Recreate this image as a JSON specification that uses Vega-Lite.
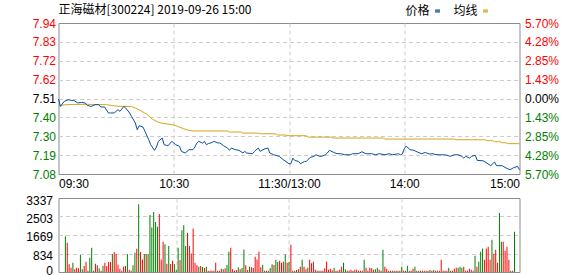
{
"$schema": "https://vega.github.io/schema/vega-lite/v6.json",
"background": "white",
"padding": {"left": 24.5, "top": 3, "right": 5, "bottom": 0},
"spacing": 24,
"bounds": "flush",
"resolve": {"scale": {"color": "independent"}},
"datasets": {
"lines": [
{"t":0,"v":7.507,"s":"价格"},{"t":1,"v":7.465,"s":"价格"},{"t":3,"v":7.494,"s":"价格"},{"t":5,"v":7.503,"s":"价格"},{"t":7,"v":7.499,"s":"价格"},{"t":8,"v":7.499,"s":"价格"},{"t":10,"v":7.485,"s":"价格"},{"t":12,"v":7.488,"s":"价格"},{"t":14,"v":7.484,"s":"价格"},{"t":15,"v":7.471,"s":"价格"},{"t":17,"v":7.465,"s":"价格"},{"t":19,"v":7.475,"s":"价格"},{"t":21,"v":7.475,"s":"价格"},{"t":22,"v":7.462,"s":"价格"},{"t":24,"v":7.462,"s":"价格"},{"t":26,"v":7.428,"s":"价格"},{"t":27,"v":7.428,"s":"价格"},{"t":29,"v":7.428,"s":"价格"},{"t":31,"v":7.447,"s":"价格"},{"t":32,"v":7.437,"s":"价格"},{"t":34,"v":7.465,"s":"价格"},{"t":35,"v":7.456,"s":"价格"},{"t":37,"v":7.428,"s":"价格"},{"t":38,"v":7.409,"s":"价格"},{"t":40,"v":7.371,"s":"价格"},{"t":41,"v":7.333,"s":"价格"},{"t":42,"v":7.356,"s":"价格"},{"t":44,"v":7.348,"s":"价格"},{"t":45,"v":7.324,"s":"价格"},{"t":47,"v":7.276,"s":"价格"},{"t":48,"v":7.248,"s":"价格"},{"t":50,"v":7.216,"s":"价格"},{"t":51,"v":7.235,"s":"价格"},{"t":52,"v":7.267,"s":"价格"},{"t":54,"v":7.286,"s":"价格"},{"t":55,"v":7.248,"s":"价格"},{"t":57,"v":7.242,"s":"价格"},{"t":59,"v":7.267,"s":"价格"},{"t":60,"v":7.258,"s":"价格"},{"t":61,"v":7.248,"s":"价格"},{"t":63,"v":7.239,"s":"价格"},{"t":64,"v":7.21,"s":"价格"},{"t":66,"v":7.201,"s":"价格"},{"t":68,"v":7.22,"s":"价格"},{"t":70,"v":7.22,"s":"价格"},{"t":71,"v":7.235,"s":"价格"},{"t":72,"v":7.257,"s":"价格"},{"t":73,"v":7.267,"s":"价格"},{"t":75,"v":7.257,"s":"价格"},{"t":76,"v":7.267,"s":"价格"},{"t":77,"v":7.248,"s":"价格"},{"t":78,"v":7.254,"s":"价格"},{"t":80,"v":7.261,"s":"价格"},{"t":81,"v":7.267,"s":"价格"},{"t":83,"v":7.258,"s":"价格"},{"t":84,"v":7.258,"s":"价格"},{"t":86,"v":7.242,"s":"价格"},{"t":88,"v":7.229,"s":"价格"},{"t":89,"v":7.216,"s":"价格"},{"t":90,"v":7.229,"s":"价格"},{"t":92,"v":7.22,"s":"价格"},{"t":94,"v":7.216,"s":"价格"},{"t":96,"v":7.201,"s":"价格"},{"t":97,"v":7.21,"s":"价格"},{"t":98,"v":7.201,"s":"价格"},{"t":101,"v":7.197,"s":"价格"},{"t":102,"v":7.21,"s":"价格"},{"t":104,"v":7.229,"s":"价格"},{"t":105,"v":7.21,"s":"价格"},{"t":107,"v":7.223,"s":"价格"},{"t":109,"v":7.229,"s":"价格"},{"t":110,"v":7.201,"s":"价格"},{"t":112,"v":7.191,"s":"价格"},{"t":115,"v":7.182,"s":"价格"},{"t":117,"v":7.163,"s":"价格"},{"t":120,"v":7.14,"s":"价格"},{"t":121,"v":7.14,"s":"价格"},{"t":122,"v":7.172,"s":"价格"},{"t":123,"v":7.159,"s":"价格"},{"t":125,"v":7.153,"s":"价格"},{"t":126,"v":7.14,"s":"价格"},{"t":128,"v":7.153,"s":"价格"},{"t":129,"v":7.153,"s":"价格"},{"t":131,"v":7.176,"s":"价格"},{"t":133,"v":7.182,"s":"价格"},{"t":134,"v":7.191,"s":"价格"},{"t":136,"v":7.182,"s":"价格"},{"t":137,"v":7.182,"s":"价格"},{"t":139,"v":7.191,"s":"价格"},{"t":140,"v":7.201,"s":"价格"},{"t":141,"v":7.216,"s":"价格"},{"t":143,"v":7.206,"s":"价格"},{"t":145,"v":7.197,"s":"价格"},{"t":147,"v":7.197,"s":"价格"},{"t":149,"v":7.191,"s":"价格"},{"t":152,"v":7.191,"s":"价格"},{"t":153,"v":7.197,"s":"价格"},{"t":156,"v":7.197,"s":"价格"},{"t":158,"v":7.208,"s":"价格"},{"t":160,"v":7.197,"s":"价格"},{"t":163,"v":7.197,"s":"价格"},{"t":165,"v":7.191,"s":"价格"},{"t":167,"v":7.197,"s":"价格"},{"t":170,"v":7.191,"s":"价格"},{"t":172,"v":7.197,"s":"价格"},{"t":174,"v":7.191,"s":"价格"},{"t":177,"v":7.197,"s":"价格"},{"t":178,"v":7.191,"s":"价格"},{"t":179,"v":7.195,"s":"价格"},{"t":180,"v":7.225,"s":"价格"},{"t":181,"v":7.24,"s":"价格"},{"t":183,"v":7.22,"s":"价格"},{"t":185,"v":7.216,"s":"价格"},{"t":187,"v":7.206,"s":"价格"},{"t":189,"v":7.197,"s":"价格"},{"t":191,"v":7.204,"s":"价格"},{"t":193,"v":7.195,"s":"价格"},{"t":195,"v":7.197,"s":"价格"},{"t":196,"v":7.193,"s":"价格"},{"t":198,"v":7.191,"s":"价格"},{"t":200,"v":7.191,"s":"价格"},{"t":202,"v":7.189,"s":"价格"},{"t":204,"v":7.182,"s":"价格"},{"t":206,"v":7.191,"s":"价格"},{"t":208,"v":7.191,"s":"价格"},{"t":210,"v":7.182,"s":"价格"},{"t":211,"v":7.172,"s":"价格"},{"t":212,"v":7.182,"s":"价格"},{"t":214,"v":7.172,"s":"价格"},{"t":215,"v":7.182,"s":"价格"},{"t":217,"v":7.188,"s":"价格"},{"t":218,"v":7.159,"s":"价格"},{"t":221,"v":7.157,"s":"价格"},{"t":223,"v":7.144,"s":"价格"},{"t":225,"v":7.129,"s":"价格"},{"t":227,"v":7.15,"s":"价格"},{"t":228,"v":7.129,"s":"价格"},{"t":231,"v":7.129,"s":"价格"},{"t":233,"v":7.116,"s":"价格"},{"t":235,"v":7.106,"s":"价格"},{"t":237,"v":7.118,"s":"价格"},{"t":239,"v":7.125,"s":"价格"},{"t":240,"v":7.106,"s":"价格"},
{"t":0,"v":7.47,"s":"均线"},{"t":5,"v":7.476,"s":"均线"},{"t":15,"v":7.477,"s":"均线"},{"t":25,"v":7.475,"s":"均线"},{"t":28,"v":7.47,"s":"均线"},{"t":31,"v":7.466,"s":"均线"},{"t":38,"v":7.464,"s":"均线"},{"t":40,"v":7.456,"s":"均线"},{"t":43,"v":7.44,"s":"均线"},{"t":46,"v":7.42,"s":"均线"},{"t":49,"v":7.392,"s":"均线"},{"t":52,"v":7.375,"s":"均线"},{"t":54,"v":7.37,"s":"均线"},{"t":57,"v":7.365,"s":"均线"},{"t":60,"v":7.36,"s":"均线"},{"t":62,"v":7.352,"s":"均线"},{"t":65,"v":7.339,"s":"均线"},{"t":68,"v":7.329,"s":"均线"},{"t":70,"v":7.326,"s":"均线"},{"t":88,"v":7.326,"s":"均线"},{"t":89,"v":7.32,"s":"均线"},{"t":95,"v":7.32,"s":"均线"},{"t":96,"v":7.314,"s":"均线"},{"t":104,"v":7.314,"s":"均线"},{"t":105,"v":7.31,"s":"均线"},{"t":113,"v":7.31,"s":"均线"},{"t":114,"v":7.303,"s":"均线"},{"t":118,"v":7.303,"s":"均线"},{"t":120,"v":7.299,"s":"均线"},{"t":129,"v":7.299,"s":"均线"},{"t":130,"v":7.291,"s":"均线"},{"t":142,"v":7.291,"s":"均线"},{"t":143,"v":7.286,"s":"均线"},{"t":169,"v":7.286,"s":"均线"},{"t":170,"v":7.28,"s":"均线"},{"t":206,"v":7.28,"s":"均线"},{"t":207,"v":7.276,"s":"均线"},{"t":222,"v":7.276,"s":"均线"},{"t":223,"v":7.271,"s":"均线"},{"t":226,"v":7.271,"s":"均线"},{"t":227,"v":7.265,"s":"均线"},{"t":230,"v":7.265,"s":"均线"},{"t":231,"v":7.259,"s":"均线"},{"t":233,"v":7.259,"s":"均线"},{"t":234,"v":7.254,"s":"均线"},{"t":240,"v":7.254,"s":"均线"}
],
"bars": [
{"t":1,"vol":1617,"d":"d"},{"t":2,"vol":1317,"d":"u"},{"t":3,"vol":344,"d":"u"},{"t":4,"vol":195,"d":"u"},{"t":5,"vol":419,"d":"d"},{"t":6,"vol":120,"d":"u"},{"t":7,"vol":195,"d":"u"},{"t":8,"vol":165,"d":"u"},{"t":9,"vol":763,"d":"d"},{"t":10,"vol":120,"d":"d"},
{"t":11,"vol":270,"d":"u"},{"t":12,"vol":464,"d":"u"},{"t":13,"vol":60,"d":"d"},{"t":14,"vol":644,"d":"d"},{"t":15,"vol":1093,"d":"d"},{"t":16,"vol":60,"d":"u"},{"t":17,"vol":374,"d":"u"},{"t":18,"vol":300,"d":"u"},{"t":19,"vol":165,"d":"d"},{"t":20,"vol":60,"d":"u"},
{"t":21,"vol":285,"d":"d"},{"t":22,"vol":419,"d":"u"},{"t":23,"vol":270,"d":"u"},{"t":24,"vol":449,"d":"u"},{"t":25,"vol":449,"d":"u"},{"t":26,"vol":808,"d":"d"},{"t":27,"vol":898,"d":"u"},{"t":28,"vol":808,"d":"u"},{"t":29,"vol":330,"d":"u"},{"t":30,"vol":150,"d":"u"},
{"t":31,"vol":60,"d":"u"},{"t":32,"vol":240,"d":"u"},{"t":33,"vol":270,"d":"u"},{"t":34,"vol":808,"d":"d"},{"t":35,"vol":90,"d":"u"},{"t":36,"vol":60,"d":"u"},{"t":37,"vol":300,"d":"d"},{"t":38,"vol":868,"d":"d"},{"t":39,"vol":1048,"d":"u"},{"t":40,"vol":3054,"d":"d"},
{"t":41,"vol":898,"d":"u"},{"t":42,"vol":569,"d":"u"},{"t":43,"vol":808,"d":"d"},{"t":44,"vol":808,"d":"u"},{"t":45,"vol":808,"d":"d"},{"t":46,"vol":2575,"d":"d"},{"t":47,"vol":2006,"d":"d"},{"t":48,"vol":2710,"d":"d"},{"t":49,"vol":2260,"d":"d"},{"t":50,"vol":2036,"d":"d"},
{"t":51,"vol":2620,"d":"u"},{"t":52,"vol":569,"d":"u"},{"t":53,"vol":1362,"d":"u"},{"t":54,"vol":1257,"d":"d"},{"t":55,"vol":374,"d":"u"},{"t":56,"vol":1168,"d":"d"},{"t":57,"vol":359,"d":"u"},{"t":58,"vol":509,"d":"u"},{"t":59,"vol":359,"d":"d"},{"t":60,"vol":90,"d":"d"},
{"t":61,"vol":1093,"d":"d"},{"t":62,"vol":539,"d":"u"},{"t":63,"vol":1886,"d":"d"},{"t":64,"vol":2111,"d":"d"},{"t":65,"vol":1168,"d":"d"},{"t":66,"vol":1766,"d":"u"},{"t":67,"vol":1168,"d":"u"},{"t":68,"vol":838,"d":"u"},{"t":69,"vol":1961,"d":"u"},{"t":70,"vol":419,"d":"u"},
{"t":71,"vol":300,"d":"u"},{"t":72,"vol":240,"d":"d"},{"t":73,"vol":270,"d":"u"},{"t":74,"vol":225,"d":"d"},{"t":75,"vol":180,"d":"u"},{"t":76,"vol":240,"d":"d"},{"t":77,"vol":60,"d":"u"},{"t":78,"vol":60,"d":"u"},{"t":79,"vol":60,"d":"u"},{"t":80,"vol":60,"d":"u"},
{"t":81,"vol":419,"d":"u"},{"t":82,"vol":60,"d":"d"},{"t":83,"vol":60,"d":"u"},{"t":84,"vol":150,"d":"u"},{"t":85,"vol":120,"d":"d"},{"t":86,"vol":165,"d":"u"},{"t":87,"vol":314,"d":"d"},{"t":88,"vol":913,"d":"d"},{"t":89,"vol":1093,"d":"u"},{"t":90,"vol":120,"d":"u"},
{"t":91,"vol":60,"d":"u"},{"t":92,"vol":90,"d":"u"},{"t":93,"vol":210,"d":"d"},{"t":94,"vol":120,"d":"u"},{"t":95,"vol":180,"d":"d"},{"t":96,"vol":1018,"d":"d"},{"t":97,"vol":300,"d":"u"},{"t":98,"vol":90,"d":"u"},{"t":99,"vol":240,"d":"d"},{"t":100,"vol":210,"d":"u"},
{"t":101,"vol":180,"d":"u"},{"t":102,"vol":689,"d":"u"},{"t":103,"vol":569,"d":"u"},{"t":104,"vol":913,"d":"u"},{"t":105,"vol":210,"d":"u"},{"t":106,"vol":330,"d":"d"},{"t":107,"vol":60,"d":"u"},{"t":108,"vol":60,"d":"u"},{"t":109,"vol":60,"d":"u"},{"t":110,"vol":180,"d":"d"},
{"t":111,"vol":344,"d":"d"},{"t":112,"vol":314,"d":"u"},{"t":113,"vol":554,"d":"d"},{"t":114,"vol":449,"d":"d"},{"t":115,"vol":509,"d":"u"},{"t":116,"vol":419,"d":"u"},{"t":117,"vol":464,"d":"u"},{"t":118,"vol":793,"d":"d"},{"t":119,"vol":419,"d":"u"},{"t":120,"vol":449,"d":"d"},
{"t":121,"vol":1227,"d":"u"},{"t":122,"vol":60,"d":"u"},{"t":123,"vol":60,"d":"u"},{"t":124,"vol":90,"d":"d"},{"t":125,"vol":120,"d":"u"},{"t":126,"vol":240,"d":"u"},{"t":127,"vol":554,"d":"d"},{"t":128,"vol":240,"d":"u"},{"t":129,"vol":120,"d":"u"},{"t":130,"vol":195,"d":"d"},
{"t":131,"vol":554,"d":"u"},{"t":132,"vol":389,"d":"u"},{"t":133,"vol":464,"d":"u"},{"t":134,"vol":100,"d":"u"},{"t":135,"vol":60,"d":"u"},{"t":136,"vol":60,"d":"d"},{"t":137,"vol":60,"d":"u"},{"t":138,"vol":60,"d":"u"},{"t":139,"vol":165,"d":"u"},{"t":140,"vol":464,"d":"u"},
{"t":141,"vol":100,"d":"u"},{"t":142,"vol":150,"d":"u"},{"t":143,"vol":75,"d":"u"},{"t":144,"vol":195,"d":"d"},{"t":145,"vol":60,"d":"u"},{"t":146,"vol":60,"d":"u"},{"t":147,"vol":100,"d":"u"},{"t":148,"vol":240,"d":"u"},{"t":149,"vol":419,"d":"d"},{"t":150,"vol":120,"d":"d"},
{"t":151,"vol":60,"d":"u"},{"t":152,"vol":60,"d":"u"},{"t":153,"vol":100,"d":"u"},{"t":154,"vol":60,"d":"d"},{"t":155,"vol":100,"d":"u"},{"t":156,"vol":100,"d":"u"},{"t":157,"vol":60,"d":"u"},{"t":158,"vol":60,"d":"u"},{"t":159,"vol":60,"d":"u"},{"t":160,"vol":554,"d":"d"},
{"t":161,"vol":195,"d":"u"},{"t":162,"vol":60,"d":"u"},{"t":163,"vol":195,"d":"u"},{"t":164,"vol":165,"d":"u"},{"t":165,"vol":100,"d":"u"},{"t":166,"vol":120,"d":"d"},{"t":167,"vol":195,"d":"d"},{"t":168,"vol":100,"d":"u"},{"t":169,"vol":60,"d":"u"},{"t":170,"vol":1003,"d":"d"},
{"t":171,"vol":240,"d":"u"},{"t":172,"vol":150,"d":"u"},{"t":173,"vol":60,"d":"u"},{"t":174,"vol":60,"d":"d"},{"t":175,"vol":60,"d":"u"},{"t":176,"vol":60,"d":"u"},{"t":177,"vol":60,"d":"u"},{"t":178,"vol":60,"d":"d"},{"t":179,"vol":60,"d":"u"},{"t":180,"vol":240,"d":"d"},
{"t":181,"vol":60,"d":"u"},{"t":182,"vol":60,"d":"u"},{"t":183,"vol":285,"d":"d"},{"t":184,"vol":60,"d":"d"},{"t":185,"vol":60,"d":"u"},{"t":186,"vol":150,"d":"u"},{"t":187,"vol":240,"d":"d"},{"t":188,"vol":60,"d":"d"},{"t":189,"vol":60,"d":"u"},{"t":190,"vol":60,"d":"u"},
{"t":191,"vol":60,"d":"u"},{"t":192,"vol":60,"d":"d"},{"t":193,"vol":60,"d":"u"},{"t":194,"vol":60,"d":"u"},{"t":195,"vol":90,"d":"d"},{"t":196,"vol":60,"d":"u"},{"t":197,"vol":90,"d":"d"},{"t":198,"vol":60,"d":"u"},{"t":199,"vol":60,"d":"u"},{"t":200,"vol":60,"d":"u"},
{"t":201,"vol":554,"d":"u"},{"t":202,"vol":60,"d":"u"},{"t":203,"vol":60,"d":"u"},{"t":204,"vol":60,"d":"u"},{"t":205,"vol":195,"d":"d"},{"t":206,"vol":60,"d":"u"},{"t":207,"vol":60,"d":"u"},{"t":208,"vol":150,"d":"u"},{"t":209,"vol":195,"d":"u"},{"t":210,"vol":195,"d":"d"},
{"t":211,"vol":240,"d":"d"},{"t":212,"vol":195,"d":"d"},{"t":213,"vol":240,"d":"u"},{"t":214,"vol":60,"d":"u"},{"t":215,"vol":60,"d":"u"},{"t":216,"vol":150,"d":"u"},{"t":217,"vol":100,"d":"u"},{"t":218,"vol":60,"d":"u"},{"t":219,"vol":734,"d":"d"},{"t":220,"vol":240,"d":"u"},
{"t":221,"vol":464,"d":"d"},{"t":222,"vol":913,"d":"d"},{"t":223,"vol":1063,"d":"d"},{"t":224,"vol":554,"d":"u"},{"t":225,"vol":1063,"d":"u"},{"t":226,"vol":1138,"d":"u"},{"t":227,"vol":554,"d":"u"},{"t":228,"vol":1452,"d":"d"},{"t":229,"vol":823,"d":"u"},{"t":230,"vol":1003,"d":"u"},
{"t":231,"vol":419,"d":"u"},{"t":232,"vol":2665,"d":"d"},{"t":233,"vol":1362,"d":"d"},{"t":234,"vol":1362,"d":"u"},{"t":235,"vol":958,"d":"u"},{"t":236,"vol":1138,"d":"u"},{"t":237,"vol":554,"d":"u"},{"t":238,"vol":60,"d":"d"},{"t":239,"vol":60,"d":"u"},{"t":240,"vol":1811,"d":"d"}
]
},
"vconcat": [
{
"width": 461,
"height": 151,
"title": {"text": "正海磁材[300224] 2019-09-26 15:00", "anchor": "start", "frame": "group", "font": "Noto Sans CJK SC", "fontSize": 12, "fontWeight": "normal", "color": "#000000", "offset": -12},
"layer": [
{
"data": {"name": "lines"},
"transform": [{"filter": "datum.s === '均线'"}],
"mark": {"type": "line", "strokeWidth": 1},
"encoding": {
"x": {"field": "t", "type": "quantitative", "title": null,
"scale": {"domain": [0, 240], "nice": false, "zero": false},
"axis": {"values": [0, 60, 120, 180, 240], "labelExpr": "datum.value == 0 ? '09:30' : datum.value == 60 ? '10:30' : datum.value == 120 ? '11:30/13:00' : datum.value == 180 ? '14:00' : '15:00'", "labelFlush": true, "labelPadding": 4, "labelOverlap": false, "grid": true, "gridOpacity": {"condition": {"test": "datum.value > 0 && datum.value < 240", "value": 1}, "value": 0}}},
"y": {"field": "v", "type": "quantitative", "title": null,
"scale": {"domain": [7.08193, 7.93807], "nice": false, "zero": false},
"axis": {"orient": "left", "values": [7.08193, 7.18895, 7.29597, 7.40298, 7.51, 7.61702, 7.72404, 7.83105, 7.93807], "format": ".2f", "labelPadding": 3, "labelOverlap": false, "grid": true, "gridOpacity": {"condition": {"test": "datum.value > 7.09 && datum.value < 7.93", "value": 1}, "value": 0}, "labelColor": {"condition": [{"test": "datum.value > 7.52", "value": "#ff0000"}, {"test": "datum.value < 7.50", "value": "#008000"}], "value": "#000000"}}},
"color": {"field": "s", "type": "nominal", "title": null,
"scale": {"domain": ["价格", "均线"], "range": ["#0b4f9f", "#dba21d"]},
"legend": {"orient": "none", "legendX": 373, "legendY": -18, "direction": "horizontal", "title": null, "labelFont": "Noto Sans CJK SC", "labelFontSize": 12, "labelColor": "#000000", "labelAlign": "right", "labelOffset": -14, "symbolType": "M-1,-0.4H1M-1,0H1M-1,0.4H1", "symbolSize": 25, "columnPadding": 10, "padding": 0}}
}
},
{
"data": {"name": "lines"},
"transform": [{"filter": "datum.s === '价格'"}],
"mark": {"type": "line", "strokeWidth": 1},
"encoding": {
"x": {"field": "t", "type": "quantitative"},
"y": {"field": "v", "type": "quantitative", "title": null,
"axis": {"orient": "right", "values": [7.08193, 7.18895, 7.29597, 7.40298, 7.51, 7.61702, 7.72404, 7.83105, 7.93807], "labelExpr": "['0.00','1.43','2.85','4.28','5.70'][abs(round((datum.value / 7.51 - 1) / 0.01425))] + '%'", "labelPadding": 5, "labelOverlap": false, "grid": false, "labelColor": {"condition": [{"test": "datum.value > 7.52", "value": "#ff0000"}, {"test": "datum.value < 7.50", "value": "#008000"}], "value": "#000000"}}},
"color": {"field": "s", "type": "nominal"}
}
}
],
"resolve": {"axis": {"y": "independent"}}
},
{
"width": 461,
"height": 74,
"data": {"name": "bars"},
"mark": {"type": "bar", "width": 1},
"encoding": {
"x": {"field": "t", "type": "quantitative", "title": null,
"scale": {"domain": [0, 240], "nice": false, "zero": false},
"axis": {"values": [60, 120, 180], "labels": false, "grid": true}},
"y": {"field": "vol", "type": "quantitative", "title": null,
"scale": {"domain": [0, 3337], "nice": false},
"axis": {"values": [0, 834, 1669, 2503, 3337], "format": "d", "labelPadding": 6, "labelOffset": {"condition": {"test": "datum.value == 0", "value": -2}, "value": 2}, "labelOverlap": false, "grid": true, "gridOpacity": {"condition": {"test": "datum.value > 0 && datum.value < 3337", "value": 1}, "value": 0}}},
"color": {"field": "d", "type": "nominal", "scale": {"domain": ["u", "d"], "range": ["#ff0000", "#008000"]}, "legend": null}
}
}
],
"config": {
"view": {"stroke": "#8c8c8c", "strokeWidth": 1},
"axis": {"labelFont": "Liberation Sans", "labelFontSize": 12, "labelColor": "#000000", "ticks": false, "domain": false, "gridColor": "#cccccc", "gridDash": [4, 3], "gridWidth": 1},
"line": {"strokeWidth": 1}
}
}
